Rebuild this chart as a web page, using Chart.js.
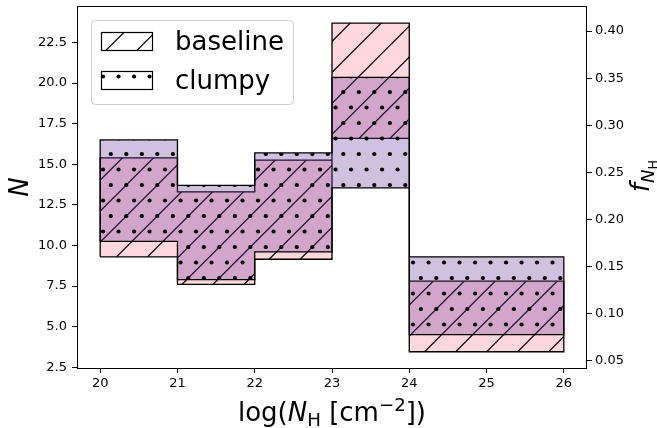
<!DOCTYPE html>
<html>
<head>
<meta charset="utf-8">
<script src="https://cdn.jsdelivr.net/npm/chart.js@4.4.1/dist/chart.umd.min.js"></script>
<style>
    html, body { margin: 0; padding: 0; background: #fff; }
    canvas { display: block; }
</style>
</head>
<body>
<canvas id="chart" width="657" height="428"></canvas>
<script>
// bin edges in log(N_H), one band (low..high) per bin
var binEdges = [20, 21, 22, 23, 24, 26];
var xTicks = [20, 21, 22, 23, 24, 25, 26];

var baselineLow = [9.3, 7.6, 9.15, 16.6, 3.45];
var baselineHigh = [15.4, 13.3, 15.25, 23.7, 7.8];
var clumpyLow = [10.25, 7.9, 9.6, 13.55, 4.5];
var clumpyHigh = [16.5, 13.7, 15.7, 20.35, 9.3];

var seriesNames = ['baseline', 'clumpy'];

// left axis N, right axis f_NH (same frame, different scale)
var nRange = [2.45, 24.75];
var fRange = [0.0425, 0.4266];

(function () {

    var canvas = document.getElementById('chart');
    var ctx = canvas.getContext('2d');
    var TILE = 31;

    Chart.defaults.font.family = "'DejaVu Sans', sans-serif";
    Chart.defaults.font.size = 13;
    Chart.defaults.color = '#000';

    // hatch tiles: '/' lines and '.' dots, anchored to the canvas like matplotlib's
    function makePattern(fill, kind) {
        var c = document.createElement('canvas');
        c.width = TILE;
        c.height = TILE;
        var g = c.getContext('2d');
        g.fillStyle = fill;
        g.fillRect(0, 0, TILE, TILE);
        g.strokeStyle = '#000';
        g.fillStyle = '#000';
        if (kind === 'lines') {
            g.lineWidth = 1.25;
            for (var k = -2; k <= 2; k++) {
                var c0 = 1.3 + TILE * k;
                g.beginPath();
                g.moveTo(c0 - 40, 40);
                g.lineTo(c0 + 40, -40);
                g.stroke();
            }
        } else {
            var seeds = [[2.3, 30], [10.05, 14.5]];
            seeds.forEach(function (s) {
                for (var i = -3; i <= 3; i++) {
                    for (var j = -1; j <= 1; j++) {
                        g.beginPath();
                        g.arc(s[0] + 15.5 * i, s[1] + TILE * j, 2.1, 0, Math.PI * 2);
                        g.fill();
                    }
                }
            });
        }
        return ctx.createPattern(c, 'repeat');
    }

    // closed stepped outline of a band, walked from the bin edges
    function bandOutline(low, high) {
        var pts = [{ x: binEdges[0], y: low[0] }];
        for (var i = 0; i < high.length; i++) {
            pts.push({ x: binEdges[i], y: high[i] }, { x: binEdges[i + 1], y: high[i] });
        }
        for (var j = low.length - 1; j >= 0; j--) {
            pts.push({ x: binEdges[j + 1], y: low[j] }, { x: binEdges[j], y: low[j] });
        }
        return pts;
    }

    var legendFills = {};
    legendFills[seriesNames[0]] = makePattern('#fff', 'lines');
    legendFills[seriesNames[1]] = makePattern('#fff', 'dots');

    function band(label, low, high, fill, kind, order) {
        return {
            label: label,
            data: bandOutline(low, high),
            backgroundColor: makePattern(fill, kind),
            borderColor: '#000',
            borderWidth: 1.3,
            borderJoinStyle: 'miter',
            fill: 'shape',
            pointRadius: 0,
            tension: 0,
            order: order
        };
    }

    // draws mixed runs (italic, sub/superscripts) as canvas text
    function drawRuns(g, runs, x, y, size, align) {
        var total = 0;
        runs.forEach(function (r) {
            g.font = (r.it ? 'italic ' : '') + (size * (r.s || 1)) + "px 'DejaVu Sans'";
            r.w = g.measureText(r.t).width;
            total += r.w;
        });
        var cx = align === 'center' ? x - total / 2 : x;
        g.textAlign = 'left';
        g.textBaseline = 'alphabetic';
        runs.forEach(function (r) {
            g.font = (r.it ? 'italic ' : '') + (size * (r.s || 1)) + "px 'DejaVu Sans'";
            g.fillText(r.t, cx, y + (r.dy || 0) * size);
            cx += r.w;
        });
    }

    var decorations = {
        id: 'decorations',
        afterDraw: function (chart) {
            var g = chart.ctx;
            var a = chart.chartArea;
            g.save();

            // frame
            g.strokeStyle = '#000';
            g.lineWidth = 1;
            g.strokeRect(Math.round(a.left) + 0.5, Math.round(a.top) + 0.5,
                Math.round(a.right - a.left) - 1, Math.round(a.bottom - a.top));

            // legend
            g.beginPath();
            g.roundRect(91.5, 20.5, 202, 84, 4);
            g.fillStyle = 'rgba(255,255,255,0.8)';
            g.fill();
            g.strokeStyle = '#cccccc';
            g.stroke();
            chart.data.datasets.forEach(function (ds, i) {
                var top = 32 + i * 39;
                g.fillStyle = legendFills[ds.label];
                g.fillRect(101, top, 52, 18);
                g.strokeStyle = '#000';
                g.lineWidth = 1.2;
                g.strokeRect(101.5, top + 0.5, 51, 18);
                g.fillStyle = '#000';
                g.font = "26px 'DejaVu Sans'";
                g.textAlign = 'left';
                g.textBaseline = 'alphabetic';
                g.fillText(ds.label, 175, top + 18);
            });

            g.fillStyle = '#000';
            // x title
            drawRuns(g, [
                { t: 'log(' }, { t: 'N', it: true }, { t: 'H', s: 0.7, dy: 0.2 },
                { t: ' [cm' }, { t: '\u22122', s: 0.7, dy: -0.4 }, { t: '])' }
            ], (a.left + a.right) / 2, 421, 26, 'center');

            // left title
            g.save();
            g.translate(28, (a.top + a.bottom) / 2);
            g.rotate(-Math.PI / 2);
            drawRuns(g, [{ t: 'N', it: true }], 0, 0, 26, 'center');
            g.restore();

            // right title
            g.save();
            g.translate(649, 176);
            g.rotate(-Math.PI / 2);
            drawRuns(g, [
                { t: 'f', it: true }, { t: 'N', it: true, s: 0.7, dy: 0.2 }, { t: 'H', s: 0.49, dy: 0.3 }
            ], 0, 0, 26, 'center');
            g.restore();

            g.restore();
        }
    };

    function tickGrid() {
        return { display: true, drawOnChartArea: false, drawTicks: true, tickLength: 5, tickColor: '#000', tickWidth: 1 };
    }

    var chart = new Chart(ctx, {
        type: 'line',
        data: {
            datasets: [
                band(seriesNames[0], baselineLow, baselineHigh, 'rgba(255,192,203,0.62)', 'lines', 2),
                band(seriesNames[1], clumpyLow, clumpyHigh, 'rgba(102,51,153,0.3)', 'dots', 1)
            ]
        },
        options: {
            responsive: false,
            animation: false,
            layout: { padding: { top: 6, left: 0, right: 0, bottom: 0 } },
            plugins: { legend: { display: false }, tooltip: { enabled: false } },
            scales: {
                x: {
                    type: 'linear',
                    position: 'bottom',
                    min: 19.7,
                    max: 26.3,
                    grid: tickGrid(),
                    border: { display: false },
                    afterBuildTicks: function (s) {
                        s.ticks = xTicks.map(function (v) { return { value: v }; });
                    },
                    ticks: {
                        padding: 3,
                        maxRotation: 0,
                        callback: function (v) { return String(v); }
                    },
                    afterFit: function (s) {
                        s.height = 60;
                        s.paddingLeft = 0;
                        s.paddingRight = 0;
                    }
                },
                y: {
                    type: 'linear',
                    position: 'left',
                    min: nRange[0],
                    max: nRange[1],
                    grid: tickGrid(),
                    border: { display: false },
                    ticks: {
                        stepSize: 2.5,
                        includeBounds: false,
                        padding: 5,
                        callback: function (v) { return v.toFixed(1); }
                    },
                    afterFit: function (s) {
                        s.width = 77;
                        s.paddingTop = 0;
                        s.paddingBottom = 0;
                    }
                },
                y2: {
                    type: 'linear',
                    position: 'right',
                    min: fRange[0],
                    max: fRange[1],
                    grid: tickGrid(),
                    border: { display: false },
                    ticks: {
                        stepSize: 0.05,
                        includeBounds: false,
                        padding: 3,
                        callback: function (v) { return v.toFixed(2); }
                    },
                    afterFit: function (s) {
                        s.width = 70;
                        s.paddingTop = 0;
                        s.paddingBottom = 0;
                    }
                }
            }
        },
        plugins: [decorations]
    });

}());
</script>
</body>
</html>
